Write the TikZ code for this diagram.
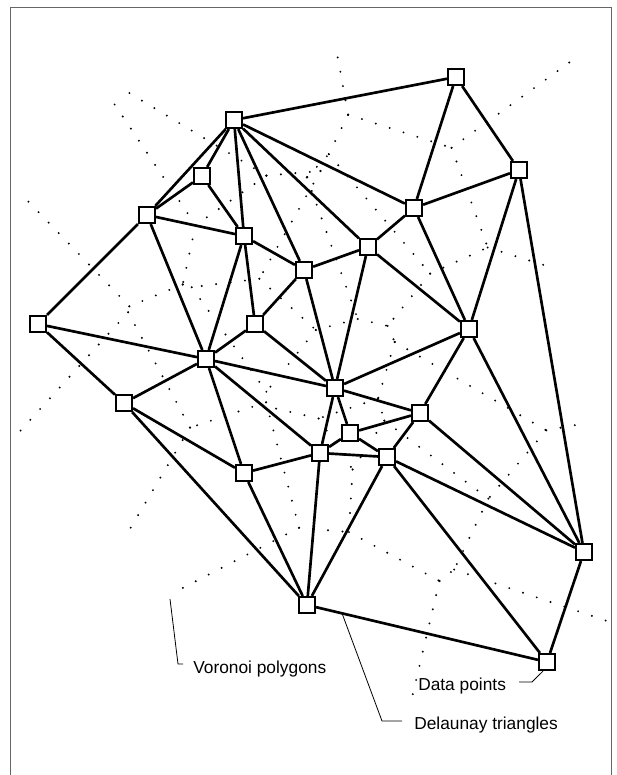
\documentclass[tikz,border=0pt]{standalone}
\usepackage{fontspec}
\setmainfont{Liberation Sans}
\usetikzlibrary{calc,backgrounds}

% a data point: remember its position and draw its square
\newcommand\site[3]{%
  \expandafter\def\csname siteX#1\endcsname{#2}%
  \expandafter\def\csname siteY#1\endcsname{#3}%
  \node[sq] (#1) at (#2,#3) {};}

% Voronoi vertex = circumcentre of the Delaunay triangle #1#2#3
\newcommand\vtx[3]{%
  \edef\vAx{\csname siteX#1\endcsname}%
  \edef\vAy{\csname siteY#1\endcsname}%
  \edef\vBx{\fpeval{(\csname siteX#2\endcsname)-(\vAx)}}%
  \edef\vBy{\fpeval{(\csname siteY#2\endcsname)-(\vAy)}}%
  \edef\vCx{\fpeval{(\csname siteX#3\endcsname)-(\vAx)}}%
  \edef\vCy{\fpeval{(\csname siteY#3\endcsname)-(\vAy)}}%
  \edef\vD{\fpeval{2*((\vBx)*(\vCy)-(\vBy)*(\vCx))}}%
  \edef\vBB{\fpeval{(\vBx)*(\vBx)+(\vBy)*(\vBy)}}%
  \edef\vCC{\fpeval{(\vCx)*(\vCx)+(\vCy)*(\vCy)}}%
  \edef\vUx{\fpeval{round((\vAx)+((\vCy)*(\vBB)-(\vBy)*(\vCC))/(\vD),3)}}%
  \edef\vUy{\fpeval{round((\vAy)+((\vBx)*(\vCC)-(\vCx)*(\vBB))/(\vD),3)}}%
  \coordinate (#1#2#3) at (\vUx,\vUy);}

\tikzset{
  sq/.style={draw, fill=white, line width=1.2pt, minimum size=12.4pt, inner sep=0pt},
  del/.style={line width=2pt},
  vor/.style={line width=1.6pt, line cap=round, dash pattern=on 0pt off 10.9pt},
  lead/.style={line width=0.6pt},
  lbl/.style={font=\fontsize{13}{15}\selectfont, inner sep=0pt, anchor=base west},
  frame/.style={draw=black!60, line width=0.9pt}
}

\begin{document}
\begin{tikzpicture}[x=0.75pt, y=-0.75pt]
\useasboundingbox (0,0) rectangle (617,775);
\draw[frame] (10.5,776) -- (10.5,7.5) -- (611.5,7.5) -- (611.5,776);

% data points
\site{A}{234}{120}
\site{B}{456}{77}
\site{C}{519}{170}
\site{D}{202}{176}
\site{E}{147}{215}
\site{F}{414}{208}
\site{G}{244}{236}
\site{H}{368}{247}
\site{I}{304}{270}
\site{J}{38}{324}
\site{K}{255}{324}
\site{L}{469}{329}
\site{M}{206}{359}
\site{N}{335}{388}
\site{O}{124}{403}
\site{P}{420}{413}
\site{Q}{350}{433}
\site{R}{320}{453}
\site{S}{387}{457}
\site{T}{244}{473}
\site{U}{584}{552}
\site{V}{307}{605}
\site{W}{547}{662}

% Voronoi vertices
\vtx{A}{B}{F} \vtx{B}{F}{C} \vtx{A}{D}{G} \vtx{D}{E}{G}
\vtx{A}{G}{I} \vtx{A}{I}{H} \vtx{A}{H}{F} \vtx{F}{H}{L}
\vtx{F}{C}{L} \vtx{E}{G}{M} \vtx{G}{M}{K} \vtx{G}{K}{I}
\vtx{E}{J}{M} \vtx{J}{M}{O} \vtx{K}{I}{N} \vtx{I}{H}{N}
\vtx{H}{N}{L} \vtx{M}{K}{N} \vtx{L}{N}{P} \vtx{L}{P}{U}
\vtx{N}{P}{Q} \vtx{N}{Q}{R} \vtx{M}{N}{R} \vtx{M}{R}{T}
\vtx{M}{T}{O} \vtx{T}{R}{V} \vtx{R}{Q}{S} \vtx{Q}{P}{S}
\vtx{P}{S}{U} \vtx{R}{S}{V} \vtx{S}{V}{W} \vtx{S}{U}{W}

% where the cut Voronoi edges and the outer rays stop
\coordinate (vAD) at (126,91);
\coordinate (vDE) at (113,102);
\coordinate (vCL) at (547,266);
\coordinate (vLU) at (581,424);
\coordinate (vOT) at (124,539);
\coordinate (vTV) at (175,592);
\coordinate (rAB) at (336,48);
\coordinate (rBC) at (570,62);
\coordinate (rUW) at (607,621);
\coordinate (rWV) at (410,706);
\coordinate (rJO) at (12,440);
\coordinate (rEJ) at (22,195);

\begin{pgfonlayer}{background}
\fill[white] (0,0) rectangle (617,775);
\foreach \p/\q in {ADG/vAD, ADG/AGI, AGI/AIH, AIH/AHF, AHF/ABF, ABF/BFC,
  BFC/FCL, DEG/vDE, ADG/DEG, DEG/EGM, EGM/EJM, AHF/FHL, FHL/FCL, AGI/GKI,
  GKI/GMK, EGM/GMK, AIH/IHN, IHN/HNL, FHL/HNL, GKI/KIN, KIN/IHN, EJM/JMO,
  GMK/MKN, KIN/MKN, HNL/LNP, LNP/LPU, FCL/vCL, LPU/vLU, MKN/MNR, JMO/MTO,
  MRT/MTO, MNR/MRT, LNP/NPQ, NPQ/NQR, NQR/MNR, MTO/vOT, NPQ/QPS, QPS/PSU,
  LPU/PSU, NQR/RQS, RQS/QPS, RQS/RSV, MRT/TRV, TRV/RSV, RSV/SVW, PSU/SUW,
  SVW/SUW, TRV/vTV, ABF/rAB, BFC/rBC, SUW/rUW, SVW/rWV, JMO/rJO, EJM/rEJ}
  \draw[vor] (\p) -- (\q);
\end{pgfonlayer}

% Delaunay triangles
\foreach \p/\q in {A/B, A/D, A/E, A/G, A/I, A/H, A/F, B/C, B/F, C/F, C/L, C/U,
  D/E, D/G, E/G, E/J, E/M, F/H, F/L, G/I, G/K, G/M, H/I, H/N, H/L, I/K, I/N,
  J/M, J/O, K/M, K/N, L/N, L/P, L/U, M/N, M/O, M/T, M/R, N/P, N/Q, N/R,
  O/T, O/V, P/Q, P/S, P/U, Q/R, Q/S, R/S, R/T, R/V, S/V, S/U, S/W, T/V,
  U/W, V/W}
  \draw[del] (\p) -- (\q);

% labels and leaders
\node[lbl] (tVor) at (193,673) {Voronoi polygons};
\node[lbl] (tDat) at (418,690) {Data points};
\node[lbl] (tDel) at (414,729) {Delaunay triangles};

\coordinate (lv1) at (170,599);
\coordinate (lv2) at (178,664);
\coordinate (lv3) at (183,664);
\draw[lead] (lv1) -- (lv2) -- (lv3);

\coordinate (ld1) at ($(V)!0.146!(W)$);
\coordinate (ld2) at (382,721);
\coordinate (ld3) at (402,721);
\draw[lead] (ld1) -- (ld2) -- (ld3);

\coordinate (lp1) at ($(W.south)+(-4,0)$);
\coordinate (lp2) at (532,682);
\coordinate (lp3) at (519,682);
\draw[lead] (lp1) -- (lp2) -- (lp3);
\end{tikzpicture}
\end{document}
